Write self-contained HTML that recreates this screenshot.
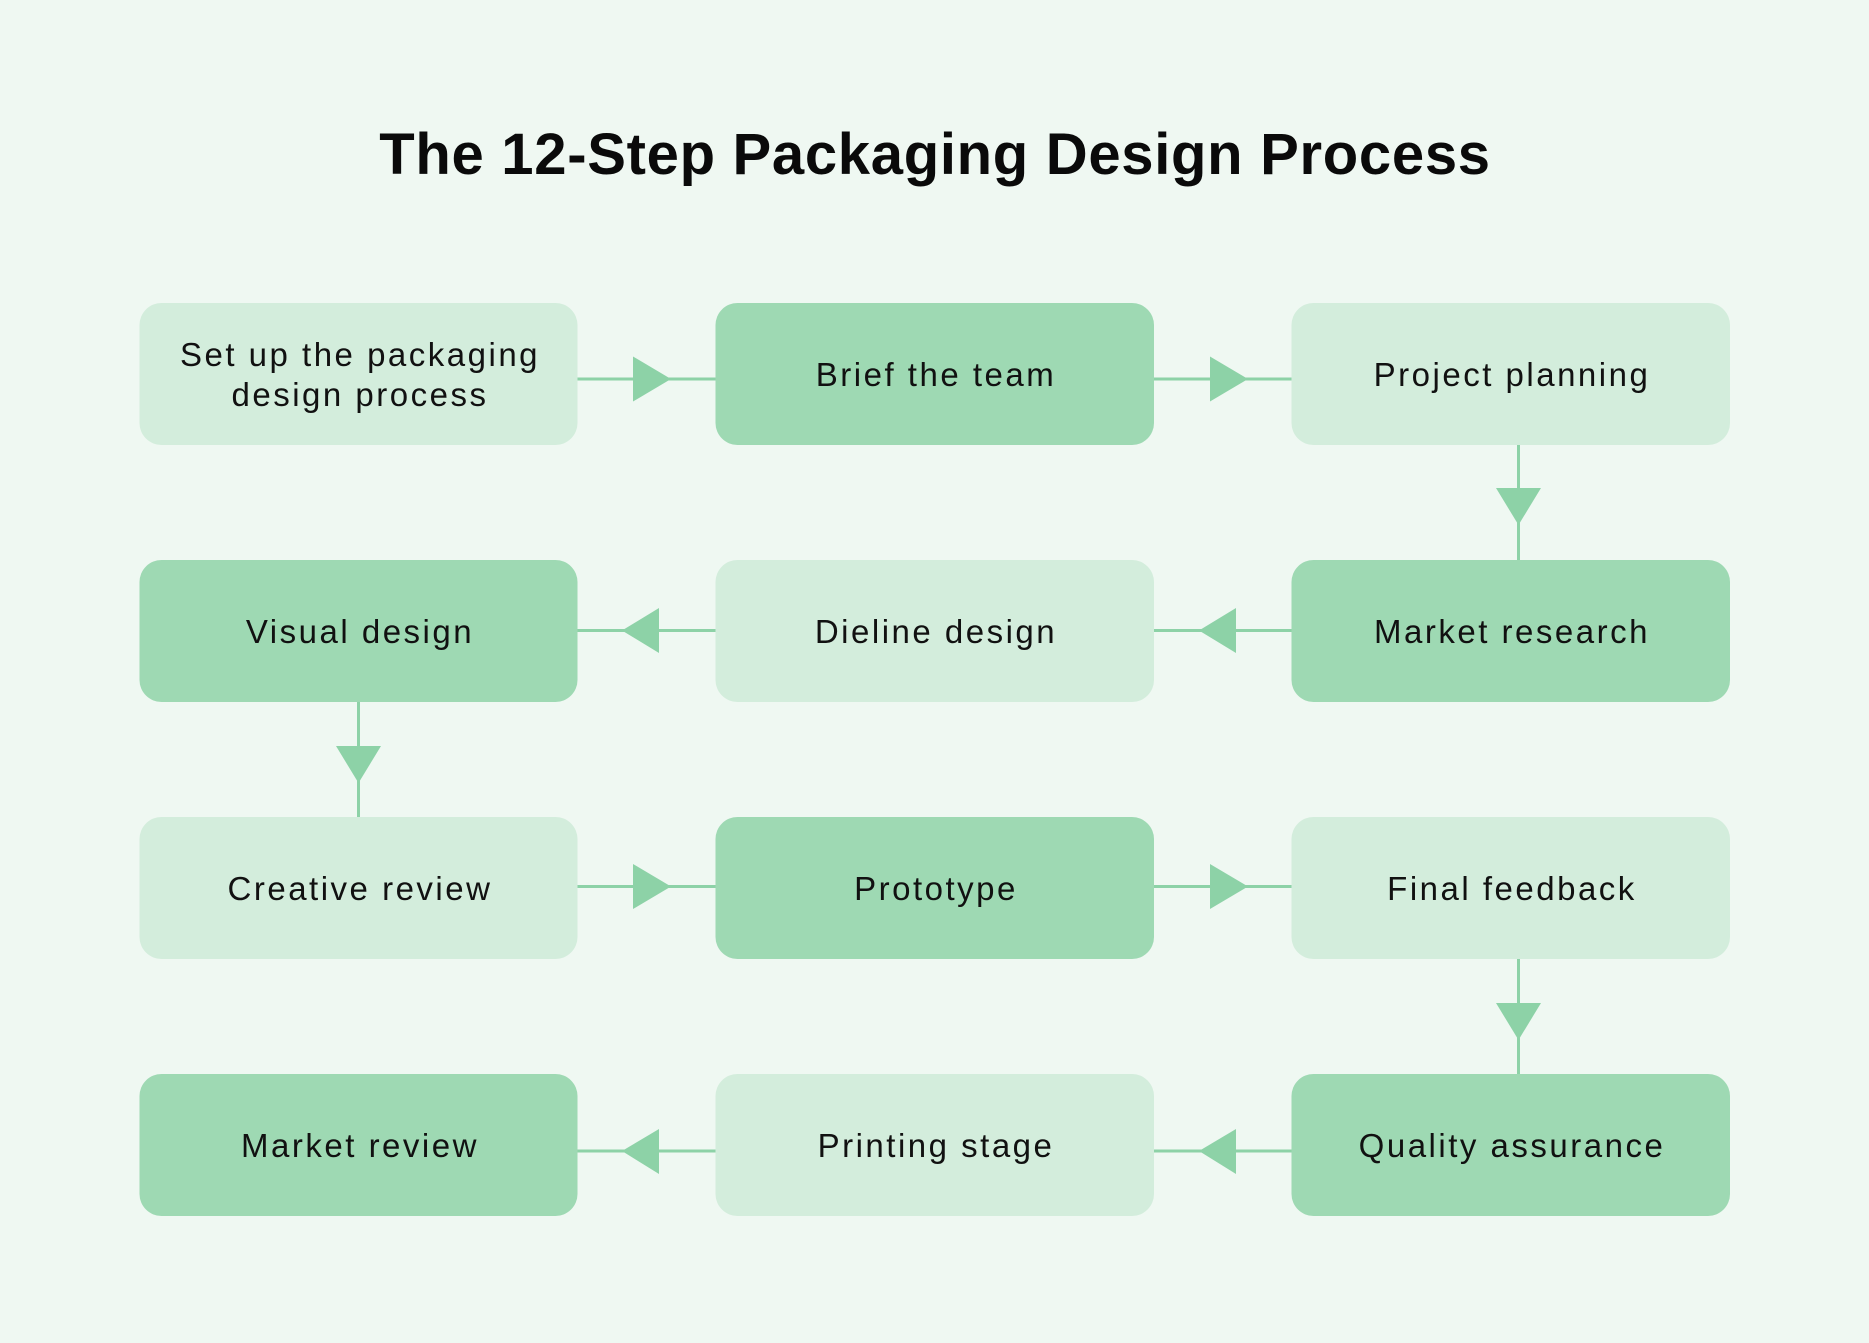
<!DOCTYPE html>
<html>
<head>
<meta charset="utf-8">
<style>
  html, body { margin:0; padding:0; }
  body { width:1869px; height:1343px; background:#eff8f2; overflow:hidden; }
  svg { display:block; }
  .t { font-family:"Liberation Sans", sans-serif; font-size:33px; fill:#111; letter-spacing:2.5px; }
  .title { font-family:"Liberation Sans", sans-serif; font-size:58px; font-weight:bold; fill:#0a0a0a; letter-spacing:0.7px; }
</style>
</head>
<body>
<svg width="1869" height="1343" viewBox="0 0 1869 1343" xmlns="http://www.w3.org/2000/svg">
  <rect x="0" y="0" width="1869" height="1343" fill="#eff8f2"/>
  <text class="title" x="935" y="174" text-anchor="middle">The 12-Step Packaging Design Process</text>

  <!-- connectors -->
  <g stroke="#8dd2a7" stroke-width="3" fill="none">
    <line x1="577" y1="379" x2="716" y2="379"/>
    <line x1="1154" y1="379" x2="1292" y2="379"/>
    <line x1="1518.5" y1="445" x2="1518.5" y2="560"/>
    <line x1="1154" y1="630.5" x2="1292" y2="630.5"/>
    <line x1="577" y1="630.5" x2="716" y2="630.5"/>
    <line x1="358.5" y1="701" x2="358.5" y2="817"/>
    <line x1="577" y1="886.5" x2="716" y2="886.5"/>
    <line x1="1154" y1="886.5" x2="1292" y2="886.5"/>
    <line x1="1518.5" y1="959" x2="1518.5" y2="1074"/>
    <line x1="1154" y1="1151" x2="1292" y2="1151"/>
    <line x1="577" y1="1151" x2="716" y2="1151"/>
  </g>
  <g fill="#8dd2a7">
    <polygon points="633,356.5 671,379 633,401.5"/>
    <polygon points="1210,356.5 1248,379 1210,401.5"/>
    <polygon points="1496,488 1541,488 1518.5,525"/>
    <polygon points="1236,608 1199,630.5 1236,653"/>
    <polygon points="659,608 622,630.5 659,653"/>
    <polygon points="336,746 381,746 358.5,783"/>
    <polygon points="633,864 671,886.5 633,909"/>
    <polygon points="1210,864 1248,886.5 1210,909"/>
    <polygon points="1496,1003 1541,1003 1518.5,1040"/>
    <polygon points="1236,1129 1199,1151 1236,1174"/>
    <polygon points="659,1129 622,1151 659,1174"/>
  </g>

  <!-- row 1 -->
  <rect x="139.5" y="303" width="438" height="142" rx="22" fill="#d3eddc"/>
  <rect x="715.5" y="303" width="438.5" height="142" rx="22" fill="#9ed9b3"/>
  <rect x="1291.5" y="303" width="438.5" height="142" rx="22" fill="#d3eddc"/>
  <!-- row 2 -->
  <rect x="139.5" y="560" width="438" height="142" rx="22" fill="#9ed9b3"/>
  <rect x="715.5" y="560" width="438.5" height="142" rx="22" fill="#d3eddc"/>
  <rect x="1291.5" y="560" width="438.5" height="142" rx="22" fill="#9ed9b3"/>
  <!-- row 3 -->
  <rect x="139.5" y="817" width="438" height="142" rx="22" fill="#d3eddc"/>
  <rect x="715.5" y="817" width="438.5" height="142" rx="22" fill="#9ed9b3"/>
  <rect x="1291.5" y="817" width="438.5" height="142" rx="22" fill="#d3eddc"/>
  <!-- row 4 -->
  <rect x="139.5" y="1074" width="438" height="142" rx="22" fill="#9ed9b3"/>
  <rect x="715.5" y="1074" width="438.5" height="142" rx="22" fill="#d3eddc"/>
  <rect x="1291.5" y="1074" width="438.5" height="142" rx="22" fill="#9ed9b3"/>

  <!-- labels -->
  <text class="t" x="360" y="366" text-anchor="middle">Set up the packaging</text>
  <text class="t" x="360" y="406" text-anchor="middle">design process</text>
  <text class="t" x="936" y="386" text-anchor="middle">Brief the team</text>
  <text class="t" x="1512" y="386" text-anchor="middle">Project planning</text>

  <text class="t" x="360" y="643" text-anchor="middle">Visual design</text>
  <text class="t" x="936" y="643" text-anchor="middle">Dieline design</text>
  <text class="t" x="1512" y="643" text-anchor="middle">Market research</text>

  <text class="t" x="360" y="900" text-anchor="middle">Creative review</text>
  <text class="t" x="936" y="900" text-anchor="middle">Prototype</text>
  <text class="t" x="1512" y="900" text-anchor="middle">Final feedback</text>

  <text class="t" x="360" y="1157" text-anchor="middle">Market review</text>
  <text class="t" x="936" y="1157" text-anchor="middle">Printing stage</text>
  <text class="t" x="1512" y="1157" text-anchor="middle">Quality assurance</text>
</svg>
</body>
</html>
